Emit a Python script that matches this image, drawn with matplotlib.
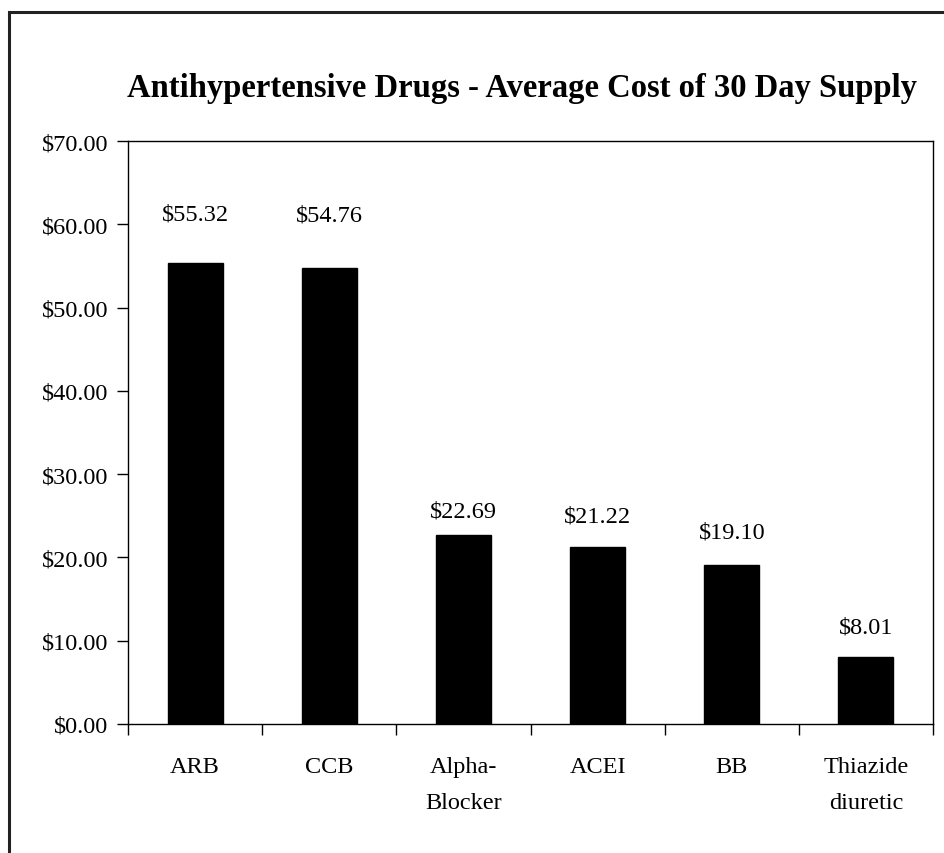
import matplotlib
matplotlib.use("Agg")
import matplotlib.pyplot as plt
from matplotlib.patches import Rectangle
from matplotlib.ticker import FixedLocator, NullFormatter, FuncFormatter
import numpy as np

categories = ["ARB", "CCB", "Alpha-\nBlocker", "ACEI", "BB", "Thiazide\ndiuretic"]
costs = [55.32, 54.76, 22.69, 21.22, 19.10, 8.01]
value_labels = ["$55.32", "$54.76", "$22.69", "$21.22", "$19.10", "$8.01"]
y_ticks = [0, 10, 20, 30, 40, 50, 60, 70]
label_offsets = [5.9, 6.4, 2.9, 3.8, 3.9, 3.6]

W, H = 944, 854
fig = plt.figure(figsize=(W / 100, H / 100), dpi=100)
plt.rcParams['font.family'] = ['Liberation Serif', 'DejaVu Serif']

# outer frame (cropped at right/bottom)
fig.patches.append(Rectangle((9 / W, -0.05), 1.2, (H - 13) / H + 0.05,
                             transform=fig.transFigure, fill=False,
                             edgecolor="#222222", linewidth=2.2))

ax = fig.add_axes([128 / W, (H - 725) / H, (933 - 128) / W, (725 - 142) / H])
x = np.arange(len(categories))
ax.bar(x, costs, width=0.41, color="black", edgecolor="black")
ax.set_xlim(-0.5, len(categories) - 0.5)
ax.set_ylim(0, 70)
ax.set_yticks(y_ticks)
ax.yaxis.set_major_formatter(FuncFormatter(lambda v, p: f"${v:.2f}"))
ax.tick_params(axis="y", direction="out", length=8, width=1, labelsize=17.5, pad=6)

ax.xaxis.set_major_locator(FixedLocator(np.arange(len(categories) + 1) - 0.5))
ax.xaxis.set_major_formatter(NullFormatter())
ax.xaxis.set_minor_locator(FixedLocator(x))
ax.set_xticklabels(categories, minor=True)
ax.tick_params(axis="x", which="major", direction="out", length=8, width=1)
ax.tick_params(axis="x", which="minor", length=0, labelsize=17.5, pad=23)
for t in ax.get_xticklabels(minor=True):
    t.set_linespacing(1.97)
    t.set_verticalalignment("top")

for s in ax.spines.values():
    s.set_linewidth(1.0)

for xi, v, lab, off in zip(x, costs, value_labels, label_offsets):
    ax.text(xi, v + off, lab, ha="center", va="center", fontsize=17.5)

fig.text(522 / W, 1 - 88 / H, "Antihypertensive Drugs - Average Cost of 30 Day Supply",
         ha="center", va="center", fontsize=23.5, fontweight="bold")

fig.savefig("out.png", dpi=100, facecolor="white")
